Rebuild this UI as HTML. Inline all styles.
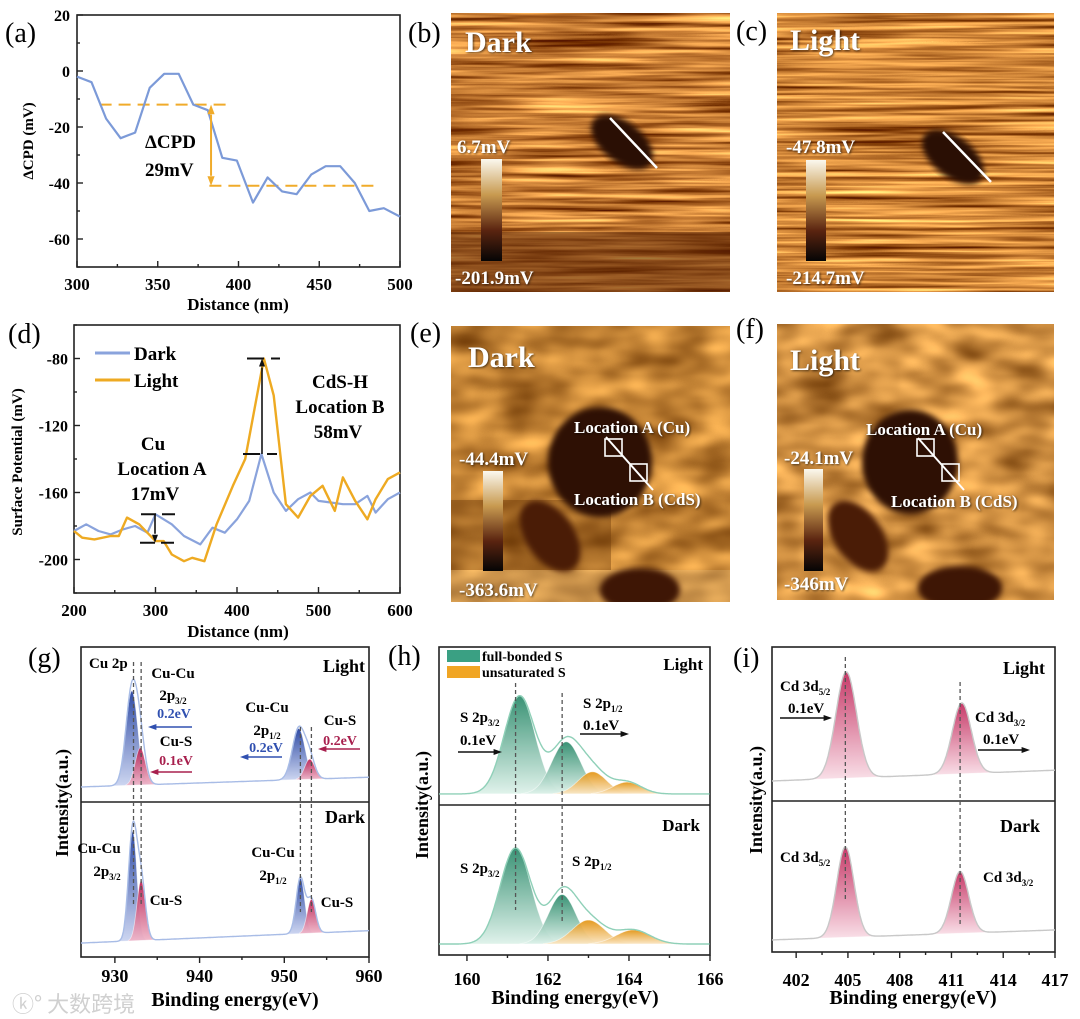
<!DOCTYPE html>
<html><head><meta charset="utf-8">
<style>
html,body{margin:0;padding:0;background:#fff;}
svg{display:block;font-family:"Liberation Serif","Noto Serif CJK SC",serif;}
filter{color-interpolation-filters:sRGB;}
</style></head>
<body>
<svg id="fig" width="1080" height="1019" viewBox="0 0 1080 1019" xmlns="http://www.w3.org/2000/svg">
<defs>
<filter id="stripes" x="0" y="0" width="1" height="1" color-interpolation-filters="sRGB"><feTurbulence type="fractalNoise" baseFrequency="0.006 0.18" numOctaves="3" seed="4"/><feColorMatrix type="matrix" values="1.3 0 0 0 0.12  1.2 0 0 0 -0.12  0.8 0 0 0 -0.2  0 0 0 0 1"/></filter>
<filter id="stripes2" x="0" y="0" width="1" height="1" color-interpolation-filters="sRGB"><feTurbulence type="fractalNoise" baseFrequency="0.005 0.22" numOctaves="3" seed="9"/><feColorMatrix type="matrix" values="1.3 0 0 0 0.16  1.2 0 0 0 -0.08  0.8 0 0 0 -0.18  0 0 0 0 1"/></filter>
<filter id="mottle" x="0" y="0" width="1" height="1" color-interpolation-filters="sRGB"><feTurbulence type="fractalNoise" baseFrequency="0.02 0.04" numOctaves="2" seed="2"/><feColorMatrix type="matrix" values="0.8 0 0 0 0.36  0.7 0 0 0 0.16  0.45 0 0 0 -0.02  0 0 0 0 1"/></filter>
<filter id="mottle2" x="0" y="0" width="1" height="1" color-interpolation-filters="sRGB"><feTurbulence type="fractalNoise" baseFrequency="0.02 0.04" numOctaves="2" seed="5"/><feColorMatrix type="matrix" values="0.9 0 0 0 0.36  0.8 0 0 0 0.16  0.55 0 0 0 -0.02  0 0 0 0 1"/></filter>
<filter id="blur3" color-interpolation-filters="sRGB"><feGaussianBlur stdDeviation="3"/></filter>
<filter id="shadow" color-interpolation-filters="sRGB"><feDropShadow dx="1" dy="1" stdDeviation="1" flood-color="#000" flood-opacity="0.6"/></filter>
<linearGradient id="cbar" x1="0" y1="0" x2="0" y2="1"><stop offset="0" stop-color="#fbf8ef"/><stop offset="0.35" stop-color="#c89a50"/><stop offset="0.7" stop-color="#5a2410"/><stop offset="1" stop-color="#050505"/></linearGradient>
<linearGradient id="gBlue" x1="0" y1="0" x2="0" y2="1"><stop offset="0" stop-color="#1f3d9e"/><stop offset="1" stop-color="#c9d3f0"/></linearGradient>
<linearGradient id="gRed" x1="0" y1="0" x2="0" y2="1"><stop offset="0" stop-color="#b81d50"/><stop offset="1" stop-color="#f0b5c8"/></linearGradient>
<linearGradient id="gGreen" x1="0" y1="0" x2="0" y2="1"><stop offset="0" stop-color="#2a8a6a"/><stop offset="1" stop-color="#def2ea"/></linearGradient>
<linearGradient id="gOrange" x1="0" y1="0" x2="0" y2="1"><stop offset="0" stop-color="#e3930f"/><stop offset="1" stop-color="#fbe6c2"/></linearGradient>
<linearGradient id="gPink" x1="0" y1="0" x2="0" y2="1"><stop offset="0" stop-color="#c22a5c"/><stop offset="1" stop-color="#f9dde6"/></linearGradient>
<clipPath id="cb"><rect x="451" y="13" width="279" height="279"/></clipPath>
<clipPath id="cc"><rect x="777" y="13" width="277" height="279"/></clipPath>
<clipPath id="ce"><rect x="451" y="326" width="279" height="276"/></clipPath>
<clipPath id="cf"><rect x="777" y="324" width="277" height="276"/></clipPath>
</defs>

<g clip-path="url(#cb)">
<rect x="451" y="13" width="279" height="279" filter="url(#stripes)"/>
<rect x="451" y="232" width="279" height="60" fill="#5a2406" opacity="0.55"/>
<ellipse cx="622" cy="142" rx="36" ry="20" transform="rotate(38 622 142)" fill="#2a0f04" filter="url(#blur3)"/>
<line x1="610" y1="118" x2="657" y2="168" stroke="#fff" stroke-width="2.5"/>
</g>
<rect x="481" y="159" width="21" height="102" fill="url(#cbar)"/>
<text x="457" y="153" font-weight="bold" font-size="19" fill="#fff" filter="url(#shadow)">6.7mV</text>
<text x="455" y="284" font-weight="bold" font-size="19" fill="#fff" filter="url(#shadow)">-201.9mV</text>
<text x="465" y="52" font-weight="bold" font-size="30" fill="#fff" filter="url(#shadow)">Dark</text>

<g clip-path="url(#cc)">
<rect x="777" y="13" width="277" height="279" filter="url(#stripes2)"/>
<ellipse cx="953" cy="157" rx="36" ry="20" transform="rotate(38 953 157)" fill="#2a0f04" filter="url(#blur3)"/>
<line x1="943" y1="132" x2="991" y2="182" stroke="#fff" stroke-width="2.5"/>
</g>
<rect x="806" y="160" width="20" height="101" fill="url(#cbar)"/>
<text x="786" y="153" font-weight="bold" font-size="19" fill="#fff" filter="url(#shadow)">-47.8mV</text>
<text x="786" y="284" font-weight="bold" font-size="19" fill="#fff" filter="url(#shadow)">-214.7mV</text>
<text x="790" y="50" font-weight="bold" font-size="30" fill="#fff" filter="url(#shadow)">Light</text>

<g clip-path="url(#ce)">
<rect x="451" y="326" width="279" height="276" filter="url(#mottle)"/>
<rect x="451" y="500" width="160" height="70" fill="#6a3608" opacity="0.4"/>
<rect x="451" y="570" width="279" height="32" fill="#e8c890" opacity="0.25"/>
<ellipse cx="600" cy="462" rx="52" ry="55" fill="#2e1004" filter="url(#blur3)"/>
<ellipse cx="550" cy="536" rx="24" ry="40" transform="rotate(-35 550 536)" fill="#4a1c06" filter="url(#blur3)"/>
<ellipse cx="640" cy="590" rx="40" ry="22" fill="#3e1605" filter="url(#blur3)"/>
<line x1="606" y1="437" x2="653" y2="490" stroke="#fff" stroke-width="2"/>
<rect x="605" y="439" width="17" height="17" fill="none" stroke="#fff" stroke-width="1.6"/>
<rect x="630" y="464" width="17" height="17" fill="none" stroke="#fff" stroke-width="1.6"/>
</g>
<rect x="483" y="471" width="20" height="100" fill="url(#cbar)"/>
<text x="459" y="465" font-weight="bold" font-size="19" fill="#fff" filter="url(#shadow)">-44.4mV</text>
<text x="459" y="596" font-weight="bold" font-size="19" fill="#fff" filter="url(#shadow)">-363.6mV</text>
<text x="468" y="367" font-weight="bold" font-size="30" fill="#fff" filter="url(#shadow)">Dark</text>
<text x="574" y="433" font-weight="bold" font-size="17" fill="#fff" filter="url(#shadow)">Location A (Cu)</text>
<text x="574" y="505" font-weight="bold" font-size="17" fill="#fff" filter="url(#shadow)">Location B (CdS)</text>

<g clip-path="url(#cf)">
<rect x="777" y="324" width="277" height="276" filter="url(#mottle2)"/>
<ellipse cx="910" cy="462" rx="48" ry="52" fill="#2e1004" filter="url(#blur3)"/>
<ellipse cx="858" cy="536" rx="24" ry="40" transform="rotate(-35 858 536)" fill="#4a1c06" filter="url(#blur3)"/>
<ellipse cx="960" cy="588" rx="42" ry="22" fill="#3e1605" filter="url(#blur3)"/>
<line x1="918" y1="438" x2="964" y2="490" stroke="#fff" stroke-width="2"/>
<rect x="917" y="439" width="17" height="17" fill="none" stroke="#fff" stroke-width="1.6"/>
<rect x="942" y="464" width="17" height="17" fill="none" stroke="#fff" stroke-width="1.6"/>
</g>
<rect x="804" y="469" width="19" height="102" fill="url(#cbar)"/>
<text x="784" y="464" font-weight="bold" font-size="19" fill="#fff" filter="url(#shadow)">-24.1mV</text>
<text x="784" y="590" font-weight="bold" font-size="19" fill="#fff" filter="url(#shadow)">-346mV</text>
<text x="790" y="370" font-weight="bold" font-size="30" fill="#fff" filter="url(#shadow)">Light</text>
<text x="866" y="435" font-weight="bold" font-size="17" fill="#fff" filter="url(#shadow)">Location A (Cu)</text>
<text x="891" y="507" font-weight="bold" font-size="17" fill="#fff" filter="url(#shadow)">Location B (CdS)</text>

<g font-size="28">
<text x="5" y="42">(a)</text>
<text x="408" y="42">(b)</text>
<text x="736" y="40">(c)</text>
<text x="8" y="343">(d)</text>
<text x="410" y="342">(e)</text>
<text x="736" y="338">(f)</text>
<text x="28" y="667">(g)</text>
<text x="388" y="665">(h)</text>
<text x="733" y="667">(i)</text>
</g>
<text x="12" y="1012" font-size="22" fill="#d0d0d0" font-family="'Noto Sans CJK SC',sans-serif">ⓚ° 大数跨境</text>
<g id="charts"></g>
</svg>
<script>
// ---- panel (a) data ----
const aDist=[300,309,318,327,336,345,354,363,372,381,390,399,409,418,427,436,445,454,463,472,481,490,500];
const aCPD=[-2,-4,-17,-24,-22,-6,-1,-1,-12,-14,-31,-32,-47,-38,-43,-44,-37,-34,-34,-40,-50,-49,-52];
const aYTicks=[20,0,-20,-40,-60];
const aXTicks=[300,350,400,450,500];
const aLevels=[-12,-41];
// ---- panel (d) data ----
const dDarkX=[200,215,230,245,260,275,290,300,320,335,355,370,385,400,415,430,445,460,475,490,500,515,530,545,560,570,585,600];
const dDarkY=[-183,-179,-183,-185,-182,-180,-184,-173,-179,-186,-191,-181,-184,-176,-165,-137,-160,-171,-164,-160,-165,-166,-167,-167,-162,-172,-164,-160];
const dLightX=[200,210,225,245,255,265,280,300,310,320,335,345,360,375,395,410,433,445,460,475,490,505,520,530,545,560,570,585,600];
const dLightY=[-183,-187,-188,-186,-186,-175,-179,-189,-189,-197,-201,-199,-201,-179,-156,-140,-80,-102,-167,-175,-162,-156,-171,-151,-165,-176,-164,-152,-148];
const dYTicks=[-80,-120,-160,-200];
const dXTicks=[200,300,400,500,600];
// ---- panel (g) data ----
const gXTicks=[930,940,950,960];
const gLightCenters=[932.0,933.0,951.7,953.0];
const gLightAmps=[61,24,33,13];
const gLightSig=[0.7,0.6,0.75,0.6];
const gLightBase=[9.7,16];
const gDarkCenters=[932.1,933.1,951.9,953.2];
const gDarkAmps=[71,39,36,22];
const gDarkSig=[0.5,0.5,0.5,0.5];
const gDarkBase=[9,17];
const gMarks=[932.2,933.1,951.9,953.2];
// ---- panel (h) data ----
const hXTicks=[160,162,164,166];
const hLightCenters=[161.3,162.45,163.1,163.95];
const hLightAmps=[62,33,14,7.5];
const hLightSig=[0.38,0.36,0.35,0.35];
const hLightBase=[7,7];
const hDarkCenters=[161.2,162.35,163.0,164.1];
const hDarkAmps=[64,33,16,9.4];
const hDarkSig=[0.38,0.34,0.4,0.42];
const hDarkBase=[7.3,7.3];
const hMarks=[161.2,162.35];
// ---- panel (i) data ----
const iXTicks=[402,405,408,411,414,417];
const iLightCenters=[404.9,411.6];
const iLightAmps=[69,46];
const iLightSig=[0.6,0.55];
const iLightBase=[13,20];
const iDarkCenters=[404.85,411.5];
const iDarkAmps=[60,41];
const iDarkSig=[0.5,0.5];
const iDarkBase=[8,14.6];
const iMarks=[404.85,411.5];

const NS="http://www.w3.org/2000/svg";
const root=document.getElementById('charts');
function el(tag,attrs,parent){const e=document.createElementNS(NS,tag);for(const k in attrs)e.setAttribute(k,attrs[k]);(parent||root).appendChild(e);return e;}
function txt(s,x,y,size,anchor,name,extra){
  const t=el('text',Object.assign({x:x,y:y,'font-size':size,'font-weight':'bold','text-anchor':anchor||'start'},extra||{}));
  
  
  t.textContent=s;return t;}
function txtSub(s,sub,x,y,size,anchor,name){
  const t=el('text',{x:x,y:y,'font-size':size,'font-weight':'bold','text-anchor':anchor||'start'});
  
  
  const a=el('tspan',{},t);a.textContent=s;
  const b=el('tspan',{dy:4,'font-size':Math.round(size*0.62)},t);b.textContent=sub;
  return t;}
function lin(d0,d1,p0,p1){return v=>p0+(v-d0)/(d1-d0)*(p1-p0);}
function frame(x0,y0,x1,y1,name){
  const r=el('rect',{x:x0,y:y0,width:x1-x0,height:y1-y0,fill:'none',stroke:'#222','stroke-width':1.6});
  
  }
function tick(x1,y1,x2,y2,name){
  const l=el('line',{x1:x1,y1:y1,x2:x2,y2:y2,stroke:'#222','stroke-width':1.4});
  
  }
function poly(xs,ys,X,Y,color,name,w,dash){
  const p=el('polyline',{points:xs.map((v,i)=>X(v).toFixed(1)+','+Y(ys[i]).toFixed(1)).join(' '),fill:'none',stroke:color,'stroke-width':w||2.2,'stroke-linejoin':'round'});
  if(dash)p.setAttribute('stroke-dasharray',dash);
  
  return p;}
function seg(x1,y1,x2,y2,color,w,dash,name){
  const l=el('line',{x1:x1,y1:y1,x2:x2,y2:y2,stroke:color,'stroke-width':w});
  if(dash)l.setAttribute('stroke-dasharray',dash);
  
  return l;}
function arrowHead(x,y,dir,color,name,s){s=s||7;let pts;
  if(dir==='up')pts=[[x,y],[x-s*0.6,y+s*1.6],[x+s*0.6,y+s*1.6]];
  else if(dir==='down')pts=[[x,y],[x-s*0.6,y-s*1.6],[x+s*0.6,y-s*1.6]];
  else if(dir==='left')pts=[[x,y],[x+s*1.4,y-s*0.5],[x+s*1.4,y+s*0.5]];
  else pts=[[x,y],[x-s*1.4,y-s*0.5],[x-s*1.4,y+s*0.5]];
  const p=el('polygon',{points:pts.map(a=>a.join(',')).join(' '),fill:color});
  
  }
function hArrow(x1,x2,y,color,name){seg(x1,y,x2+(x2>x1?-6:6),y,color,1.6,null,name);arrowHead(x2,y,x2>x1?'right':'left',color,name+'-head',6);}

// ===== panel (a) =====
(function(){
  const X=lin(300,500,77,400),Y=lin(20,-70,15,267);
  frame(77,15,400,267,'plot-a-frame');
  for(let v=20;v>=-70;v-=10){tick(77,Y(v),77+(v%20===0?6:3),Y(v),'a-y-tick');}
  aYTicks.forEach(v=>txt(String(v),70,Y(v)+6,16,'end','a-y-tick-label'));
  for(let v=300;v<=500;v+=25){tick(X(v),267,X(v),267-(v%50===0?6:3),'a-x-tick');}
  aXTicks.forEach(v=>txt(String(v),X(v),290,17,'middle','a-x-tick-label'));
  txt('Distance (nm)',238,310,17,'middle','a-x-title');
  txt('ΔCPD (mV)',0,0,15,'middle','a-y-title',{transform:'translate(33,141) rotate(-90)'});
  poly([314,394],[aLevels[0],aLevels[0]],X,Y,'#f0ab2a','a-level-high',2,'12,7');
  poly([382,486],[aLevels[1],aLevels[1]],X,Y,'#f0ab2a','a-level-low',2,'12,7');
  poly(aDist,aCPD,X,Y,'#7c9ad8','a-cpd-line',2.2);
  const ax=X(383);
  seg(ax,Y(aLevels[0])+10,ax,Y(aLevels[1])-10,'#f0ab2a',2,null,'a-delta-arrow');
  arrowHead(ax,Y(aLevels[0]),'up','#f0ab2a','a-arrow-up',6);
  arrowHead(ax,Y(aLevels[1]),'down','#f0ab2a','a-arrow-down',6);
  txt('ΔCPD',145,148,19,'start','a-delta-label');
  txt('29mV',145,176,19,'start','a-delta-value');
})();

// ===== panel (d) =====
(function(){
  const X=lin(200,600,74,400),Y=lin(-60,-220,325,593);
  frame(74,325,400,593,'plot-d-frame');
  for(let v=-60;v>=-220;v-=20){tick(74,Y(v),74+(v%40===0?6:3),Y(v),'d-y-tick');}
  dYTicks.forEach(v=>txt(String(v),68,Y(v)+6,16,'end','d-y-tick-label'));
  for(let v=200;v<=600;v+=50){tick(X(v),593,X(v),593-(v%100===0?6:3),'d-x-tick');}
  dXTicks.forEach(v=>txt(String(v),X(v),616,17,'middle','d-x-tick-label'));
  txt('Distance (nm)',238,637,17,'middle','d-x-title');
  txt('Surface Potential (mV)',0,0,15,'middle','d-y-title',{transform:'translate(22,462) rotate(-90)'});
  poly(dDarkX,dDarkY,X,Y,'#8aa3dc','d-dark-line',2.2);
  poly(dLightX,dLightY,X,Y,'#eeaa22','d-light-line',2.4);
  seg(95,353,130,353,'#8aa3dc',3,null,'d-legend-dark-swatch');
  txt('Dark',134,360,19,'start','d-legend-dark-label');
  seg(95,380,130,380,'#eeaa22',3,null,'d-legend-light-swatch');
  txt('Light',134,387,19,'start','d-legend-light-label');
  txt('Cu',153,450,19,'middle','d-cu-label');
  txt('Location A',162,475,19,'middle','d-loc-a-label');
  txt('17mV',155,500,19,'middle','d-17mv-label');
  txt('CdS-H',340,388,19,'middle','d-cds-label');
  txt('Location B',340,413,19,'middle','d-loc-b-label');
  txt('58mV',338,438,19,'middle','d-58mv-label');
  seg(141,Y(-173),175,Y(-173),'#111',2,'15,6','d-a-top-dash');
  seg(140,Y(-190),174,Y(-190),'#111',2,'15,6','d-a-bot-dash');
  seg(155,Y(-173),155,Y(-190)-9,'#111',1.6,null,'d-a-arrow');
  arrowHead(155,Y(-190),'down','#111','d-a-arrowhead',5);
  seg(247,Y(-80),280,Y(-80),'#111',2,'17,7','d-b-top-dash');
  seg(243,Y(-137),277,Y(-137),'#111',2,'17,7','d-b-bot-dash');
  seg(262,Y(-137),262,Y(-80)+9,'#111',1.6,null,'d-b-arrow');
  arrowHead(262,Y(-80),'up','#111','d-b-arrowhead',5);
})();

// ===== XPS helper =====
function xps(prefix,xmin,xmax,px0,px1,pyB,pyT,centers,amps,sig,base,fills,envColor,step){
  const X=lin(xmin,xmax,px0,px1),Y=lin(0,100,pyB,pyT);
  const bl=x=>base[0]+(x-xmin)/(xmax-xmin)*(base[1]-base[0]);
  const xs=[];for(let x=xmin;x<=xmax+1e-9;x+=step)xs.push(x);
  centers.forEach((c,k)=>{
    const pts=[];
    xs.forEach(x=>{const g=amps[k]*Math.exp(-0.5*Math.pow((x-c)/sig[k],2));if(g>0.3||Math.abs(x-c)<sig[k])pts.push([x,bl(x)+g]);});
    if(!pts.length)return;
    const d='M'+X(pts[0][0]).toFixed(1)+','+Y(bl(pts[0][0])).toFixed(1)+' '+pts.map(p=>'L'+X(p[0]).toFixed(1)+','+Y(p[1]).toFixed(1)).join(' ')+' L'+X(pts[pts.length-1][0]).toFixed(1)+','+Y(bl(pts[pts.length-1][0])).toFixed(1)+' Z';
    const p=el('path',{d:d,fill:fills[k],stroke:'rgba(255,255,255,0.6)','stroke-width':0.8,opacity:0.92});
    
    
  });
  const env=xs.map(x=>{let s=bl(x);centers.forEach((c,k)=>{s+=amps[k]*Math.exp(-0.5*Math.pow((x-c)/sig[k],2));});return s;});
  poly(xs,env,X,Y,envColor,prefix+'-envelope',1.4);
  return X;
}
function xAxis(prefix,xmin,xmax,px0,px1,py,ticks,minorStep,labelY){
  const X=lin(xmin,xmax,px0,px1);
  const first=Math.ceil(xmin/minorStep)*minorStep;
  for(let v=first;v<=xmax+1e-9;v+=minorStep){const major=ticks.some(t=>Math.abs(t-v)<1e-6);tick(X(v),py,X(v),py+(major?6:3),prefix+'-x-tick');}
  ticks.forEach(v=>txt(String(v),X(v),labelY,18,'middle',prefix+'-x-tick-label'));
}

// ===== panel (g) =====
(function(){
  frame(81,647,369,957,'plot-g-frame');seg(81,802,369,802,'#222',1.6,null,'g-divider');
  const fills=['url(#gBlue)','url(#gRed)','url(#gBlue)','url(#gRed)'];
  const X=xps('g-light',926,960,81,369,802,647,gLightCenters,gLightAmps,gLightSig,gLightBase,fills,'#a8bce6',0.1);
  xps('g-dark',926,960,81,369,957,802,gDarkCenters,gDarkAmps,gDarkSig,gDarkBase,fills,'#a8bce6',0.1);
  gMarks.forEach((m,i)=>seg(X(m),i<2?662:727,X(m),i<2?905:912,'#555',1.3,'4,3','g-marker-line'));
  xAxis('g',926,960,81,369,957,gXTicks,5,982);
  txt('Binding energy(eV)',235,1006,20,'middle','g-x-title');
  txt('Intensity(a.u.)',0,0,18,'middle','g-y-title',{transform:'translate(68,803) rotate(-90)'});
  const s=15;
  txt('Cu 2p',89,668,s,'start','g-cu2p');
  txt('Light',365,672,18,'end','g-light-tag');txt('Dark',365,823,18,'end','g-dark-tag');
  txt('Cu-Cu',173,678,s,'middle','g-cucu32');txtSub('2p','3/2',173,700,s,'middle','g-2p32');
  txt('0.2eV',174,718,14,'middle','g-shift1',{fill:'#3050b0'});hArrow(192,148,727,'#3050b0','g-arrow1');
  txt('Cu-S',176,746,s,'middle','g-cus1');
  txt('0.1eV',176,765,14,'middle','g-shift2',{fill:'#a8204e'});hArrow(192,150,772,'#a8204e','g-arrow2');
  txt('Cu-Cu',267,712,s,'middle','g-cucu12');txtSub('2p','1/2',267,735,s,'middle','g-2p12');
  txt('0.2eV',266,752,14,'middle','g-shift3',{fill:'#3050b0'});hArrow(282,240,757,'#3050b0','g-arrow3');
  txt('Cu-S',340,725,s,'middle','g-cus2');
  txt('0.2eV',340,745,14,'middle','g-shift4',{fill:'#a8204e'});hArrow(360,318,749,'#a8204e','g-arrow4');
  txt('Cu-Cu',99,853,s,'middle','g-dark-cucu32');txtSub('2p','3/2',107,876,s,'middle','g-dark-2p32');
  txt('Cu-S',166,905,s,'middle','g-dark-cus1');
  txt('Cu-Cu',273,857,s,'middle','g-dark-cucu12');txtSub('2p','1/2',273,880,s,'middle','g-dark-2p12');
  txt('Cu-S',337,907,s,'middle','g-dark-cus2');
})();

// ===== panel (h) =====
(function(){
  frame(439,647,710,955,'plot-h-frame');seg(439,805,710,805,'#222',1.6,null,'h-divider');
  const fills=['url(#gGreen)','url(#gGreen)','url(#gOrange)','url(#gOrange)'];
  const X=xps('h-light',159.31,166,439,710,805,647,hLightCenters,hLightAmps,hLightSig,hLightBase,fills,'#8fd0b8',0.02);
  xps('h-dark',159.31,166,439,710,955,805,hDarkCenters,hDarkAmps,hDarkSig,hDarkBase,fills,'#8fd0b8',0.02);
  seg(X(hMarks[0]),683,X(hMarks[0]),910,'#555',1.3,'4,3','h-marker-line');
  seg(X(hMarks[1]),693,X(hMarks[1]),922,'#555',1.3,'4,3','h-marker-line');
  xAxis('h',159.31,166,439,710,955,hXTicks,1,985);
  txt('Binding energy(eV)',575,1004,20,'middle','h-x-title');
  txt('Intensity(a.u.)',0,0,18,'middle','h-y-title',{transform:'translate(428,805) rotate(-90)'});
  const r1=el('rect',{x:447,y:650,width:33,height:12,fill:'#3aa083'});
  
  
  const r2=el('rect',{x:447,y:666,width:33,height:12,fill:'#f0a524'});
  
  
  txt('full-bonded S',482,661,14,'start','h-legend-full-label');
  txt('unsaturated S',482,677,14,'start','h-legend-unsat-label');
  txt('Light',703,670,17,'end','h-light-tag');txt('Dark',700,831,17,'end','h-dark-tag');
  txtSub('S 2p','3/2',460,722,15,'start','h-s2p32');
  txt('0.1eV',460,745,15,'start','h-shift1');hArrow(458,502,752,'#111','h-arrow1');
  txtSub('S 2p','1/2',583,708,15,'start','h-s2p12');
  txt('0.1eV',583,730,15,'start','h-shift2');hArrow(580,629,734,'#111','h-arrow2');
  txtSub('S 2p','3/2',460,873,15,'start','h-dark-s2p32');
  txtSub('S 2p','1/2',572,866,15,'start','h-dark-s2p12');
})();

// ===== panel (i) =====
(function(){
  frame(772,647,1055,952,'plot-i-frame');seg(772,801,1055,801,'#222',1.6,null,'i-divider');
  const fills=['url(#gPink)','url(#gPink)'];
  const X=xps('i-light',400.6,417,772,1055,801,647,iLightCenters,iLightAmps,iLightSig,iLightBase,fills,'#c8c8c8',0.05);
  xps('i-dark',400.6,417,772,1055,952,801,iDarkCenters,iDarkAmps,iDarkSig,iDarkBase,fills,'#c8c8c8',0.05);
  seg(X(iMarks[0]),657,X(iMarks[0]),900,'#555',1.3,'4,3','i-marker-line');
  seg(X(iMarks[1]),682,X(iMarks[1]),925,'#555',1.3,'4,3','i-marker-line');
  xAxis('i',400.6,417,772,1055,952,iXTicks,1.5,986);
  txt('Binding energy(eV)',913,1004,20,'middle','i-x-title');
  txt('Intensity(a.u.)',0,0,18,'middle','i-y-title',{transform:'translate(762,800) rotate(-90)'});
  txt('Light',1045,674,18,'end','i-light-tag');txt('Dark',1040,832,18,'end','i-dark-tag');
  txtSub('Cd 3d','5/2',780,691,15,'start','i-cd52');
  txt('0.1eV',788,713,15,'start','i-shift1');hArrow(780,832,718,'#111','i-arrow1');
  txtSub('Cd 3d','3/2',975,722,15,'start','i-cd32');
  txt('0.1eV',983,744,15,'start','i-shift2');hArrow(978,1030,750,'#111','i-arrow2');
  txtSub('Cd 3d','5/2',780,862,15,'start','i-dark-cd52');
  txtSub('Cd 3d','3/2',983,882,15,'start','i-dark-cd32');
})();
</script>
</body></html>
